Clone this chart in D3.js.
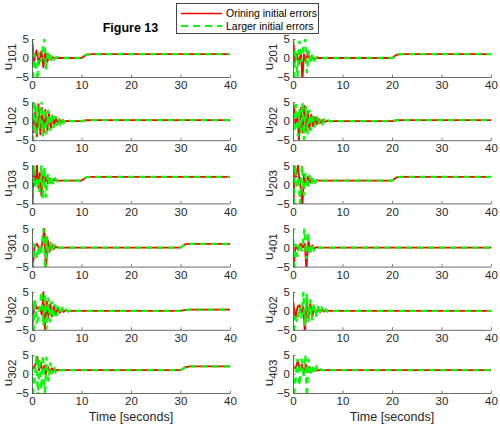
<!DOCTYPE html>
<html><head><meta charset="utf-8">
<script src="https://cdn.jsdelivr.net/npm/d3@7"></script>
<style>
html,body{margin:0;padding:0;background:#fff;}
svg{display:block;font-family:Arial,"Liberation Sans",sans-serif;}
</style></head>
<body>
<svg id="chart" width="500" height="427"></svg>
<script>
// ---- data ----
const xTickValues = [0, 10, 20, 30, 40];
const yTickValues = [-5, 0, 5];
const xDomain = [0, 40];
const yDomain = [-5, 5];
const titleText = "Figure 13";
const legendLabels = ["Orining initial errors", "Larger initial errors"];
const xLabelText = "Time [seconds]";
const leftSubscripts = ["101", "102", "103", "301", "302", "302"];
const rightSubscripts = ["201", "202", "203", "401", "402", "403"];

// [time, value] points
const u101_orig = [[0,0],[0.1,4],[0.4,-1],[0.9,2],[1.4,-1.5],[1.9,1.8],[2.3,-2.5],[2.7,1.5],[3.1,-1],[3.5,0.8],[3.9,-0.4],[4.3,0.2],[4.8,0],[10,0],[11,0.9],[12,1],[40,1]];
const u101_large = [[0,5],[0.2,-6],[0.5,1],[1.1,-6],[1.3,1.5],[1.8,-1],[2.5,5],[2.8,-3],[3.2,2],[3.6,-1.2],[4,0.8],[4.4,-0.4],[4.9,0.2],[5.4,0],[10,0],[11,0.9],[12,1],[40,1]];
const u102_orig = [[0,0],[0.3,-3],[0.6,4],[1.0,-4],[1.3,4.5],[1.7,-3.5],[2.0,3.5],[2.4,-3],[2.7,3],[3.1,-2.5],[3.4,2.2],[3.8,-1.8],[4.1,1.5],[4.5,-1.2],[4.8,1],[5.2,-0.7],[5.5,0.6],[5.9,-0.4],[6.2,0.3],[6.6,-0.2],[7,0.1],[7.5,0],[10,0],[11,0.25],[12,0.3],[40,0.3]];
const u102_large = [[0,5],[0.2,-6],[0.5,5],[0.9,-4],[1.1,4],[1.5,-2],[1.9,5.5],[2.2,-4],[2.6,3],[2.9,-3.5],[3.3,3],[3.6,-2.5],[4,2],[4.3,-1.8],[4.7,1.4],[5,-1.2],[5.4,0.9],[5.7,-0.7],[6.1,0.5],[6.4,-0.4],[6.8,0.3],[7.2,-0.15],[7.6,0.1],[8,0],[10,0],[11,0.25],[12,0.3],[40,0.3]];
const u103_orig = [[0,0],[0.1,-6],[0.3,3],[0.7,1],[1.0,5],[1.3,-1],[1.6,3],[1.9,-3],[2.2,2.5],[2.5,0],[2.8,2],[3.2,0.3],[3.6,1.6],[4.0,0.7],[4.4,1.2],[4.8,1],[10,1],[11,1.9],[12,2],[40,2]];
const u103_large = [[0,5],[0.1,-6],[0.4,5],[0.7,-1],[1.1,2],[1.5,-2],[1.9,5],[2.2,-4],[2.5,4.5],[2.8,-3.5],[3.2,3],[3.5,-0.5],[3.9,2.2],[4.3,0],[4.7,1.5],[5.1,0.8],[5.5,1.1],[6,1],[10,1],[11,1.9],[12,2],[40,2]];
const u301_orig = [[0,0],[0.1,-6],[0.5,0],[1.0,1],[1.5,-0.5],[2.0,0.5],[2.5,5],[2.8,-6],[3.2,2],[3.6,-1],[4,0.8],[4.4,-0.4],[4.8,0.2],[5.2,0],[30,0],[31,0.9],[32,1],[40,1]];
const u301_large = [[0,5],[0.1,-6],[0.5,1],[1.0,-3],[1.4,0.5],[1.8,-2],[2.3,5],[2.7,-6],[3.0,3],[3.3,-2],[3.7,1.5],[4.1,-1],[4.5,0.5],[4.9,-0.3],[5.3,0],[30,0],[31,0.9],[32,1],[40,1]];
const u302a_orig = [[0,0],[0.1,-4],[0.5,2.5],[1,0.5],[1.5,1],[2,-1],[2.3,5],[2.6,-5],[3,2.5],[3.3,-2],[3.7,1.8],[4,-1.5],[4.4,1.2],[4.8,-1],[5.2,0.7],[5.6,-0.5],[6,0.4],[6.4,-0.3],[6.8,0.2],[7.3,-0.1],[7.8,0],[30,0],[31,0.25],[32,0.3],[40,0.3]];
const u302a_large = [[0,5],[0.1,-5],[0.3,-6],[0.6,3],[0.9,-3],[1.2,-2.5],[1.6,1],[1.9,5],[2.3,-4],[2.6,4.5],[2.9,-5],[3.3,3.5],[3.6,-3],[4,2.5],[4.3,-2],[4.7,1.7],[5,-1.4],[5.4,1.1],[5.7,-0.9],[6.1,0.6],[6.5,-0.4],[6.9,0.3],[7.3,-0.2],[7.8,0.1],[8.3,0],[30,0],[31,0.25],[32,0.3],[40,0.3]];
const u302b_orig = [[0,0],[0.1,2],[0.4,1.5],[0.8,3],[1.1,4.5],[1.4,1],[1.8,3],[2.1,0.5],[2.5,2.2],[2.8,0],[3.2,2],[3.6,0.5],[4,1.5],[4.4,0.8],[4.8,1.1],[5.3,1],[30,1],[31,1.8],[32,2],[40,2]];
const u302b_large = [[0,5],[0.1,-6],[0.5,-2],[0.9,5],[1.2,-6],[1.5,4],[1.9,-4],[2.2,5],[2.6,-6],[2.9,4.5],[3.3,-2],[3.7,3],[4,0],[4.4,2],[4.8,0.5],[5.2,1.3],[5.7,0.9],[6.2,1],[30,1],[31,1.8],[32,2],[40,2]];
const u201_orig = [[0,0],[0.1,4],[0.4,-1],[0.8,1],[1.2,-1.5],[1.6,1.5],[1.9,-6],[2.2,1],[2.6,-1],[3,1.5],[3.4,-0.5],[3.8,0.6],[4.2,-0.3],[4.7,0.1],[5.2,0],[20,0],[21,0.9],[22,1],[40,1]];
const u201_large = [[0,5],[0.15,-6],[0.5,2],[0.9,-5],[1.3,4.5],[1.7,-1],[2.1,3],[2.5,5],[2.8,-4],[3.2,2],[3.6,-1.5],[4,1],[4.4,-0.5],[4.8,0.3],[5.3,0],[20,0],[21,0.9],[22,1],[40,1]];
const u202_orig = [[0,0],[0.2,4],[0.5,-1],[0.9,1],[1.2,-5],[1.6,3.5],[1.9,-3],[2.3,4],[2.6,-2.5],[3,2.5],[3.3,-2],[3.7,1.7],[4,-1.3],[4.4,1],[4.8,-0.8],[5.2,0.6],[5.6,-0.4],[6,0.3],[6.4,-0.2],[6.9,0.1],[7.4,0],[20,0],[21,0.25],[22,0.3],[40,0.3]];
const u202_large = [[0,5],[0.3,-3],[0.6,4.5],[1,-4],[1.3,3.5],[1.6,-3],[1.9,5],[2.2,-5],[2.6,4],[2.9,-3.5],[3.3,3],[3.6,-2.5],[4,2],[4.3,-1.7],[4.7,1.3],[5.1,-1],[5.5,0.8],[5.9,-0.6],[6.3,0.4],[6.7,-0.3],[7.1,0.2],[7.6,-0.1],[8.1,0],[20,0],[21,0.25],[22,0.3],[40,0.3]];
const u203_orig = [[0,0],[0.1,-6],[0.3,3],[0.6,2],[1,5],[1.3,1],[1.6,-1],[1.9,-6],[2.2,2.5],[2.6,0],[3,2],[3.4,0.5],[3.8,1.5],[4.2,0.8],[4.7,1.1],[5.2,1],[20,1],[21,1.9],[22,2],[40,2]];
const u203_large = [[0,5],[0.1,-6],[0.4,5],[0.8,-1],[1.1,2],[1.4,-5],[1.8,5],[2.2,-3],[2.5,3],[2.9,-1],[3.3,2.5],[3.7,0],[4.1,2],[4.5,0.5],[4.9,1.3],[5.4,0.9],[5.9,1],[20,1],[21,1.9],[22,2],[40,2]];
const u401_orig = [[0,0],[0.1,-6],[0.5,0.5],[1,-0.5],[1.5,1],[2,0],[2.4,1],[2.7,-6],[3.1,2],[3.5,-1],[3.9,0.6],[4.3,-0.3],[4.7,0.1],[5.2,0],[40,0]];
const u401_large = [[0,5],[0.1,-6],[0.5,1],[0.9,-2.5],[1.3,1],[1.8,-1],[2.3,5],[2.7,-3],[3.0,4],[3.4,-2],[3.8,1],[4.2,-0.6],[4.6,0.3],[5.1,0],[40,0]];
const u402_orig = [[0,0],[0.1,2],[0.5,-2],[0.9,1],[1.3,1.5],[1.7,-0.5],[2.1,1],[2.4,-6],[2.8,2.5],[3.1,-2],[3.5,1.8],[3.9,-1.4],[4.3,1],[4.7,-0.8],[5.1,0.6],[5.5,-0.4],[5.9,0.3],[6.3,-0.2],[6.8,0.1],[7.3,0],[40,0]];
const u402_large = [[0,5],[0.1,-6],[0.5,-2],[0.9,-3],[1.3,1],[1.7,-2],[2.1,5],[2.4,-4],[2.8,4.5],[3.1,-3],[3.5,3],[3.8,-2.5],[4.2,2],[4.6,-1.7],[5,1.3],[5.4,-1],[5.8,0.7],[6.2,-0.5],[6.6,0.35],[7,-0.2],[7.5,0.1],[8,0],[40,0]];
const u403_orig = [[0,0],[0.1,2],[0.5,1.5],[1,3.5],[1.4,1],[1.8,2.5],[2.2,0],[2.6,2.5],[3,0.5],[3.4,1.8],[3.8,0.7],[4.2,1.3],[4.7,0.9],[5.2,1],[40,1]];
const u403_large = [[0,5],[0.1,-6],[0.5,-2],[0.9,4],[1.3,-3],[1.7,4],[2.1,-1],[2.5,5],[2.8,-6],[3.1,4],[3.5,-0.5],[3.9,2.5],[4.3,0],[4.7,1.8],[5.1,0.6],[5.5,1.2],[6,1],[40,1]];

const leftSeries = [[u101_orig,u101_large],[u102_orig,u102_large],[u103_orig,u103_large],[u301_orig,u301_large],[u302a_orig,u302a_large],[u302b_orig,u302b_large]];
const rightSeries = [[u201_orig,u201_large],[u202_orig,u202_large],[u203_orig,u203_large],[u401_orig,u401_large],[u402_orig,u402_large],[u403_orig,u403_large]];

// ---- layout ----
const svg = d3.select("#chart");
const colX = [32, 293];
const plotW = 198;
const plotH = 38;
const rowTop0 = 39, rowStep = 63.2;
const textColor = "#262626";
const axisColor = "#5a5a5a";
const RED = "#ff0000", GREEN = "#00ff00";

function drawPanel(col, row, sub, series, idx) {
  const x0 = colX[col], y0 = rowTop0 + row * rowStep;
  const x = d3.scaleLinear().domain(xDomain).range([x0, x0 + plotW]);
  const y = d3.scaleLinear().domain(yDomain).range([y0 + plotH, y0]);
  const g = svg.append("g");
  const cid = "clip" + idx;
  svg.append("clipPath").attr("id", cid).append("rect")
    .attr("x", x0).attr("y", y0 - 0.5).attr("width", plotW + 1).attr("height", plotH + 1);

  const line = d3.line().x(d => x(d[0])).y(d => y(d[1]));
  const lines = g.append("g").attr("clip-path", `url(#${cid})`);
  lines.append("path").datum(series[0]).attr("d", line)
    .attr("fill", "none").attr("stroke", RED).attr("stroke-width", 1.8).attr("stroke-linejoin", "round");
  lines.append("path").datum(series[1]).attr("d", line)
    .attr("fill", "none").attr("stroke", GREEN).attr("stroke-width", 2.3).attr("stroke-dasharray", "6,5");

  // axes
  const xa = g.append("g").attr("transform", `translate(0,${y0 + plotH})`)
    .call(d3.axisBottom(x).tickValues(xTickValues).tickSizeInner(-2.5).tickSizeOuter(0).tickPadding(4));
  const ya = g.append("g").attr("transform", `translate(${x0},0)`)
    .call(d3.axisLeft(y).tickValues(yTickValues).tickSizeInner(-2.5).tickSizeOuter(0).tickPadding(3));
  [xa, ya].forEach(a => {
    a.select(".domain").attr("stroke", axisColor).attr("stroke-width", 0.9);
    a.selectAll(".tick line").attr("stroke", axisColor).attr("stroke-width", 0.8);
    a.selectAll(".tick text").attr("fill", textColor).style("font-size", "11.5px")
      .style("font-family", "Arial, 'Liberation Sans', sans-serif");
  });

  // y label u_sub
  const cy = y0 + plotH / 2;
  const lab = g.append("text").attr("transform", `translate(${x0 - 20},${cy - 1}) rotate(-90)`)
    .attr("text-anchor", "middle").attr("fill", textColor)
    .style("font-size", "13.5px");
  lab.append("tspan").text("u");
  lab.append("tspan").attr("dy", 4).style("font-size", "11.5px").text(sub);
}

leftSubscripts.forEach((s, i) => drawPanel(0, i, s, leftSeries[i], "L" + i));
rightSubscripts.forEach((s, i) => drawPanel(1, i, s, rightSeries[i], "R" + i));

// x labels
[0, 1].forEach(c => {
  svg.append("text").attr("x", colX[c] + plotW / 2).attr("y", 421)
    .attr("text-anchor", "middle").attr("fill", textColor).style("font-size", "12.5px").text(xLabelText);
});

// title
svg.append("text").attr("x", 130.5).attr("y", 32).attr("text-anchor", "middle")
  .attr("fill", "#000").style("font-size", "12.5px").style("font-weight", "bold").text(titleText);

// legend
const lg = svg.append("g");
lg.append("rect").attr("x", 176.5).attr("y", 3.5).attr("width", 142).attr("height", 30)
  .attr("fill", "#fff").attr("stroke", "#333").attr("stroke-width", 0.9);
const legColors = [RED, GREEN];
legendLabels.forEach((t, i) => {
  const ly = 13.5 + i * 12.5;
  lg.append("line").attr("x1", 181).attr("x2", 222).attr("y1", ly).attr("y2", ly)
    .attr("stroke", legColors[i]).attr("stroke-width", i ? 2 : 1.6)
    .attr("stroke-dasharray", i ? "7,5" : null);
  lg.append("text").attr("x", 226).attr("y", ly + 3.8).attr("fill", "#000")
    .style("font-size", "10.5px").text(t);
});
</script>
</body></html>
